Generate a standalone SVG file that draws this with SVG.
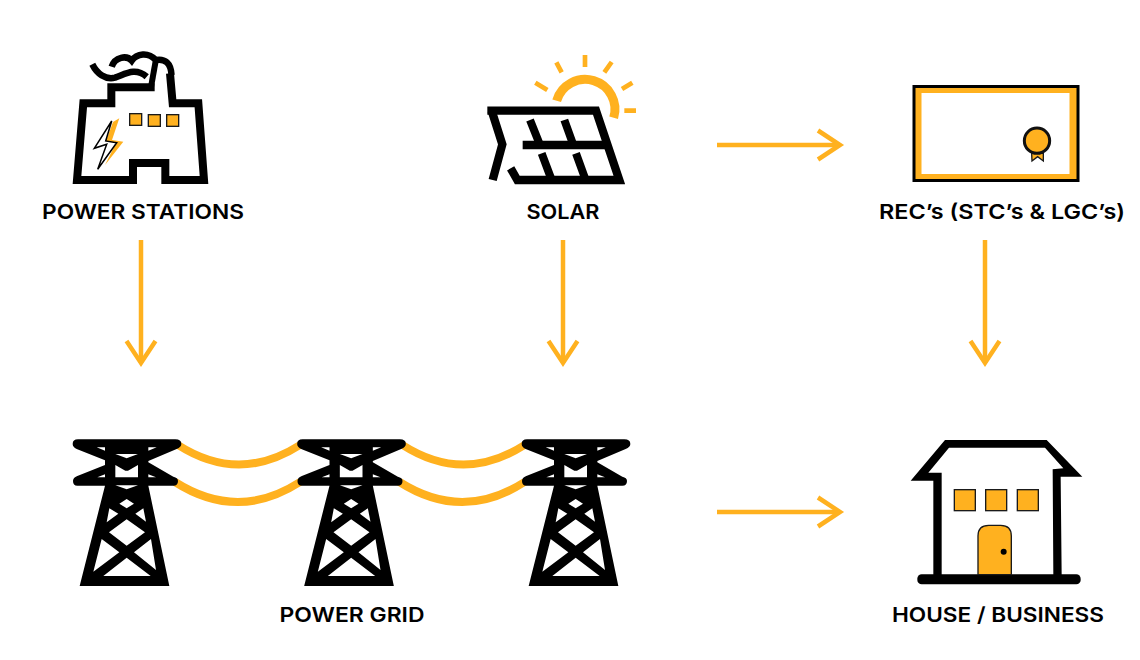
<svg xmlns="http://www.w3.org/2000/svg" xmlns:xlink="http://www.w3.org/1999/xlink" width="1140" height="660" viewBox="0 0 1140 660">
<style>
.lbl{font-family:"Inter","Liberation Sans",sans-serif;font-weight:600;font-size:20.500px;fill:#000;text-anchor:middle}
.arrow{fill:none;stroke:#ffb11f;stroke-width:4.500}
.k{fill:none;stroke:#000}
.y{fill:#ffb11f;stroke:#1a1a1a}
.ray{fill:none;stroke:#ffb11f;stroke-width:14}
.cable{fill:none;stroke:#ffb11f;stroke-width:8}
</style>
<defs>
<marker id="head" markerUnits="userSpaceOnUse" markerWidth="30" markerHeight="36" refX="25" refY="18" orient="auto" viewBox="0 0 30 36">
<path d="M3 3.500L25 18L3 32.500" fill="none" stroke="#ffb11f" stroke-width="4.500"/>
</marker>
<g id="tower" transform="scale(.33333)">
<path fill="#000" d="M54 43H346Q364 43 364 57Q364 66 350 72L265 108V112L340 155Q354 158 354 168Q354 182 340 182H265L328 483H59L135 182H52Q39 182 39 168Q39 158 52 153L135 120V106L50 72Q38 66 38 57Q38 43 54 43Z"/>
<path fill="#fff" d="M110 67H135V77ZM265 67H290L265 77ZM166 87H234L200 100ZM166 120L196 137H204L234 120V157H166ZM112 157H135V148ZM265 148V157H288ZM166 181H234L200 193ZM178 236L200 222L222 236L200 250ZM148 250L175 266L140 292ZM250 250L226 266L258 290ZM200 283L255 322L200 362L147 322ZM125 342L178 382L100 440ZM273 342L222 382L288 435ZM200 398L272 453H130Z"/>
</g>
</defs>
<rect width="1140" height="660" fill="#fff"/>
<g id="connectors">
<path class="arrow" marker-end="url(#head)" d="M141 240V363"/>
<path class="arrow" marker-end="url(#head)" d="M563 240V363"/>
<path class="arrow" marker-end="url(#head)" d="M985 240V363"/>
<path class="arrow" marker-end="url(#head)" d="M717 145H840"/>
<path class="arrow" marker-end="url(#head)" d="M717 512H840"/>
</g>
<g id="power-stations">
<g transform="translate(60 40) scale(.33333)">
<path class="k" stroke-width="24" d="M219 432V369H316V420H432L415 190H338L330 100"/>
<path class="k" stroke-width="24" d="M284 142H154V190H70L51 420H231"/>
<rect class="y" stroke-width="4" x="209" y="221" width="36" height="35"/>
<rect class="y" stroke-width="4" x="265" y="224" width="36" height="35"/>
<rect class="y" stroke-width="4" x="320" y="224" width="36" height="35"/>
</g>
<path class="k" stroke-width="6" d="M151 87L155.500 62"/>
<path class="k" stroke-width="6.500" d="M92.300 64.300C96.700 73.300 105 80 115 77.700C125 74.300 135 66.700 146.700 76.700"/>
<path class="k" stroke-width="6.500" d="M111.700 66.700C115 56.700 126.700 55 131.700 60.700C136.700 53.300 148.300 51.700 155.700 60C165 58.300 171 63 171.500 75"/>
<path fill="#ffb11f" d="M119.300 118.300L112 140L123.300 141.700L105 165L116 143L106 141L113 122Z"/>
<path fill="none" stroke="#000" stroke-width="1.500" d="M111.700 121L94.300 148.300L106.700 144.300L97.700 169.300L116.700 142.700L105.700 141Z"/>
<text class="lbl" x="143" y="219" textLength="202" lengthAdjust="spacingAndGlyphs">POWER STATIONS</text>
</g>
<g id="solar">
<g transform="translate(470 45) scale(.33333)">
<path class="k" stroke-width="25" d="M65 197L97 298L68 405"/>
<path class="k" stroke-width="25" d="M122 370L142 405H448L378 197H52"/>
<path class="k" stroke-width="25" d="M158 300H405"/>
<path class="k" stroke-width="24" d="M180 225L210 300M283 225L310 300M215 325L245 405M318 325L347 405"/>
<path fill="none" stroke="#ffb11f" stroke-width="27" d="M260 167A86 86 0 1 1 431 218"/>
<path class="ray" d="M345 30V66M259 52L275 82M425 51L403 82M196 113L232 135M487 113L456 132M463 197H498"/>
</g>
<text class="lbl" x="563" y="219" textLength="73" lengthAdjust="spacingAndGlyphs">SOLAR</text>
</g>
<g id="recs">
<rect x="914" y="86.500" width="164" height="94" fill="#ffb11f" stroke="#000" stroke-width="3"/>
<rect x="921.500" y="93" width="148" height="81" fill="#fff"/>
<g transform="translate(900 75) scale(.33333)">
<path class="y" stroke-width="4" d="M395 235H430V258L413 245L396 258Z"/>
<circle cx="411" cy="197" r="38" fill="#ffb11f" stroke="#111" stroke-width="9"/>
</g>
<text class="lbl" x="1002" y="219" textLength="246" lengthAdjust="spacingAndGlyphs">REC’s (STC’s &amp; LGC’s)</text>
</g>
<g id="power-grid">
<path class="cable" d="M178 445Q239 484 300 445M175 482Q238 522 300 482"/>
<path class="cable" d="M402.500 445Q463.500 484 524.500 445M399.500 482Q462.500 522 524.500 482"/>
<use xlink:href="#tower" href="#tower" transform="translate(60 425)"/>
<use xlink:href="#tower" href="#tower" transform="translate(284.500 425)"/>
<use xlink:href="#tower" href="#tower" transform="translate(509 425)"/>
<text class="lbl" x="352" y="622" textLength="145" lengthAdjust="spacingAndGlyphs">POWER GRID</text>
</g>
<g id="house">
<g transform="translate(900 430) scale(.33333)">
<path fill="#000" d="M32 152L135 30H440L547 140H482L485 435H460L458 118L490 115L435 53H147L85 128H125V435H100V152Z"/>
<rect x="52" y="433" width="490" height="30" rx="13"/>
<rect class="y" stroke-width="4" x="163" y="179" width="63" height="63"/>
<rect class="y" stroke-width="4" x="257" y="179" width="63" height="63"/>
<rect class="y" stroke-width="4" x="352" y="179" width="63" height="63"/>
<path class="y" stroke-width="4" d="M234 434V318Q234 286 266 286H302Q334 286 334 318V434Z"/>
<circle cx="311" cy="365" r="9" fill="#000"/>
</g>
<text class="lbl" x="998" y="622" textLength="212" lengthAdjust="spacingAndGlyphs">HOUSE / BUSINESS</text>
</g>
</svg>
